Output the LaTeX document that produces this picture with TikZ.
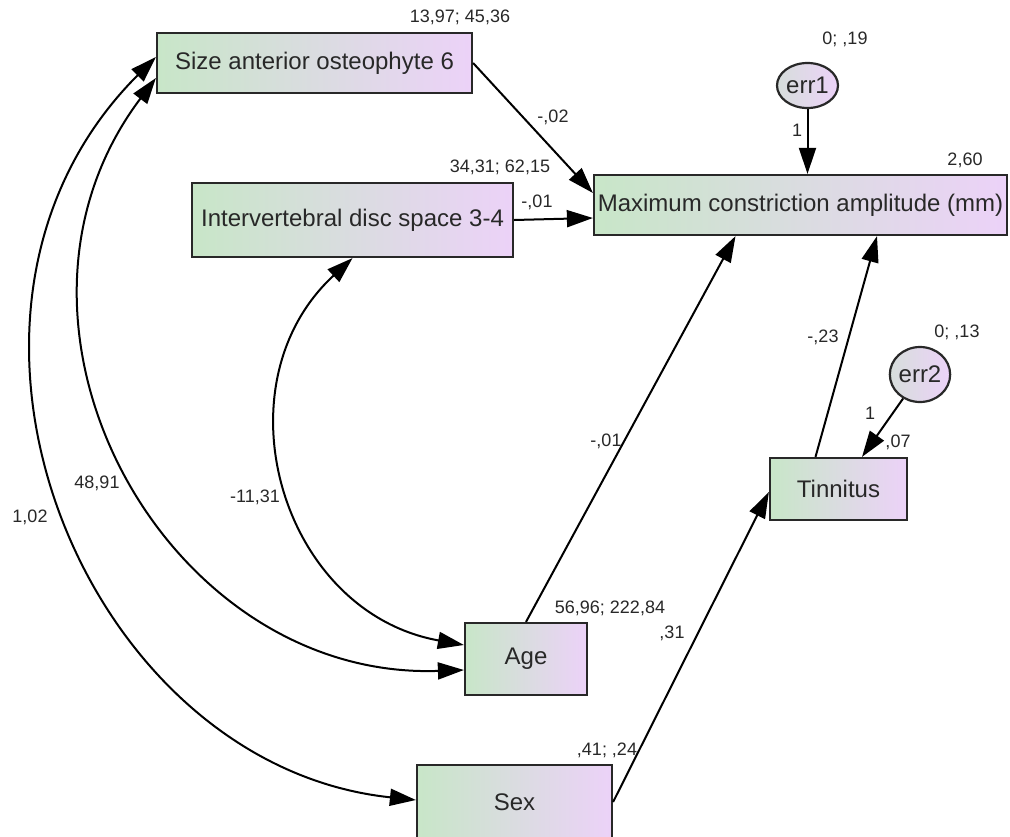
\documentclass[tikz,border=0pt]{standalone}
\usepackage{fontspec}
\setmainfont{Liberation Sans}
\usetikzlibrary{arrows.meta,shapes.geometric}
\definecolor{gl}{RGB}{200,230,200}
\definecolor{gr}{RGB}{236,210,248}
\definecolor{ink}{RGB}{40,40,40}
\begin{document}
\begin{tikzpicture}[x=1pt,y=-1pt,
  var/.style={draw=ink,line width=2.2pt,left color=gl,right color=gr,inner sep=0pt,
    font=\fontsize{24}{28}\selectfont,text=ink},
  errv/.style={ellipse,draw=ink,line width=2.2pt,left color=gl!60!gr,right color=gr,inner sep=0pt,
    font=\fontsize{24}{28}\selectfont,text=ink},
  lbl/.style={font=\fontsize{18}{20}\selectfont,text=ink,inner sep=0pt},
  arr/.style={-{Triangle[length=26pt,width=17pt]},line width=2pt,draw=black},
  cov/.style={{Triangle[length=26pt,width=17pt]}-{Triangle[length=26pt,width=17pt]},line width=2pt,draw=black}]
\useasboundingbox[fill=white] (0,0) rectangle (1010,836);

% variables
\node[var,minimum width=315pt,minimum height=60pt] (size) at (314.5,63) {Size anterior osteophyte 6};
\node[var,minimum width=321pt,minimum height=74pt] (disc) at (352.5,220) {Intervertebral disc space 3-4};
\node[var,minimum width=413pt,minimum height=60pt] (max) at (800.5,205) {Maximum constriction amplitude (mm)};
\node[var,minimum width=137pt,minimum height=62pt] (tinn) at (838.5,489) {Tinnitus};
\node[var,minimum width=122pt,minimum height=72pt] (age) at (526,659) {Age};
\node[var,minimum width=195pt,minimum height=74pt] (sex) at (514.5,802) {Sex};
\node[errv,minimum width=61pt,minimum height=45pt] (err1) at (807.5,85.5) {err1};
\node[errv,minimum width=56pt,minimum height=55pt] (err2) at (920,374.5) {err2};

% regression paths
\draw[arr] (size.east) -- ([yshift=12pt]max.west);
\draw[arr] (disc.east) -- ([yshift=-13pt]max.west);
\draw[arr] (err1) -- (err1 |- max.north);
\draw[arr] (age.north) -- ([xshift=-65pt]max.south);
\draw[arr] ([xshift=-23pt]tinn.north) -- ([xshift=76.5pt]max.south);
\draw[arr] (err2) -- ([xshift=23.5pt]tinn.north);
\draw[arr] (sex.east) -- ([yshift=-3pt]tinn.west);

% covariances
\draw[cov] ([yshift=6pt]size.west) .. controls +(135:362) and +(186:335) .. ([yshift=2pt]sex.west);
\draw[cov] ([yshift=-15pt]size.west) .. controls +(127:308) and +(178:300) .. ([yshift=-11pt]age.west);
\draw[cov] (disc.south) .. controls +(137.3:186.4) and +(190.2:186.4) .. ([yshift=14pt]age.west);

% labels
\node[lbl] (l1) at (460,17) {13,97; 45,36};
\node[lbl] (l2) at (845,39) {0; ,19};
\node[lbl] (l3) at (797,130) {1};
\node[lbl] (l4) at (965,160) {2,60};
\node[lbl] (l5) at (553,117) {-,02};
\node[lbl] (l6) at (500,167) {34,31; 62,15};
\node[lbl] (l7) at (537,202) {-,01};
\node[lbl] (l8) at (823,337) {-,23};
\node[lbl] (l9) at (957,332) {0; ,13};
\node[lbl] (l10) at (870,413) {1};
\node[lbl] (l11) at (898,442) {,07};
\node[lbl] (l12) at (606,441) {-,01};
\node[lbl] (l13) at (610,608) {56,96; 222,84};
\node[lbl] (l14) at (672,633) {,31};
\node[lbl] (l15) at (607,750) {,41; ,24};
\node[lbl] (l16) at (97,483) {48,91};
\node[lbl] (l17) at (30,517) {1,02};
\node[lbl] (l18) at (255,497) {-11,31};
\end{tikzpicture}
\end{document}
